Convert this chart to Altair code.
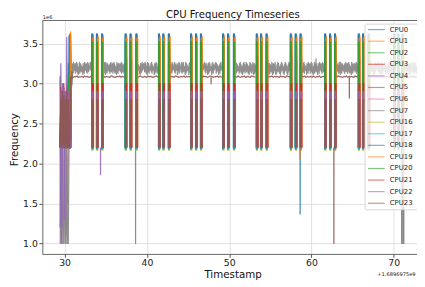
import altair as alt
import numpy as np
import pandas as pd

# ---------------- data ----------------
cpus = ["CPU0", "CPU1", "CPU2", "CPU3", "CPU4", "CPU5", "CPU6", "CPU7",
        "CPU16", "CPU17", "CPU18", "CPU19", "CPU20", "CPU21", "CPU22", "CPU23"]
colors = ["#1f77b4", "#ff7f0e", "#2ca02c", "#d62728", "#9467bd", "#8c564b", "#e377c2", "#7f7f7f",
          "#bcbd22", "#17becf", "#1f77b4", "#ff7f0e", "#2ca02c", "#d62728", "#9467bd", "#8c564b"]
continuous = ["CPU7", "CPU23"]

x_ticks = [30, 40, 50, 60, 70]
y_ticks = [1.0, 1.5, 2.0, 2.5, 3.0, 3.5]

# start-up burst (timestamps relative to +1.6896975e9, frequency in 1e6)
chaos_t = [29.45, 29.54, 29.63, 29.72, 29.81, 29.90, 29.99, 30.08, 30.17, 30.26,
           30.35, 30.44, 30.53, 30.62, 30.72, 30.85]
chaos_vals = [
    [2.2, 2.2, 2.7, 2.2, 2.6, 2.2, 2.2, 2.8, 2.2, 2.2, 2.2, 2.5, 2.2, 3.62, 2.2, 3.15],
    [3.05, 1.5, 2.2, 2.2, 2.5, 2.2, 2.2, 2.2, 2.6, 2.2, 2.2, 2.2, 2.2, 2.2, 3.65, 3.15],
    [3.1, 2.2, 2.2, 2.2, 2.9, 2.2, 2.2, 2.2, 2.2, 2.2, 2.2, 3.25, 2.2, 2.2, 2.2, 3.15],
    [2.2, 2.9, 2.2, 2.8, 2.2, 2.95, 2.2, 2.7, 2.2, 2.9, 2.2, 2.8, 2.2, 2.2, 2.2, 3.15],
    [2.2, 3.25, 2.2, 2.8, 2.2, 2.9, 2.2, 2.85, 2.2, 3.58, 2.2, 2.8, 2.2, 2.2, 2.2, 3.15],
    [2.2, 2.8, 2.2, 2.7, 2.2, 2.9, 2.2, 2.75, 2.2, 2.6, 2.2, 2.2, 2.2, 2.2, 2.2, 3.12],
    [1.0, 2.2, 1.4, 2.2, 1.2, 2.2, 1.6, 2.2, 1.1, 2.2, 1.5, 2.2, 2.2, 2.2, 2.2, 3.15],
    [2.2, 1.0, 1.0, 2.2, 1.0, 1.0, 2.2, 1.0, 1.0, 2.2, 1.0, 1.0, 2.2, 3.0, 3.22, 3.18],
    [2.2, 2.2, 2.6, 2.2, 2.2, 2.7, 2.2, 2.2, 2.5, 2.2, 2.2, 2.2, 2.2, 2.2, 2.2, 3.15],
    [2.2, 2.4, 2.2, 2.2, 2.5, 2.2, 2.2, 2.6, 2.2, 2.2, 2.2, 2.2, 2.2, 3.55, 2.2, 3.15],
    [2.2, 2.7, 2.2, 2.2, 2.2, 2.8, 2.2, 2.2, 2.2, 2.2, 2.7, 2.2, 3.6, 2.2, 2.2, 3.15],
    [2.2, 2.2, 2.2, 2.6, 2.2, 2.2, 2.7, 2.2, 2.2, 2.2, 2.2, 2.2, 2.2, 2.2, 3.62, 3.15],
    [2.2, 2.9, 2.2, 2.2, 3.0, 2.2, 2.2, 2.9, 2.2, 2.2, 2.2, 3.1, 2.2, 2.2, 2.2, 3.15],
    [2.2, 2.95, 2.2, 2.9, 2.2, 3.0, 2.2, 2.85, 2.2, 2.95, 2.2, 2.9, 2.2, 2.2, 2.2, 3.15],
    [1.2, 2.9, 1.0, 3.0, 2.2, 2.95, 1.3, 2.9, 2.2, 3.0, 2.2, 2.9, 2.2, 2.2, 2.2, 3.15],
    [2.2, 2.8, 2.2, 2.9, 2.2, 2.85, 2.2, 2.8, 2.2, 2.9, 2.2, 2.8, 2.2, 2.2, 3.08, 3.08],
]

# periodic bursts: three bars per burst (bar centre times)
burst_bars = [
    [33.41, 33.97, 34.60],
    [37.46, 38.06, 38.77],
    [41.51, 42.04, 42.71],
    [45.41, 46.01, 46.61],
    [49.31, 49.90, 50.62],
    [53.40, 53.91, 54.59],
    [57.53, 58.13, 58.72],
    [61.70, 62.30, 62.90],
    [65.79, 66.30, 66.98],
    [70.10, 70.60, 71.10],
]
burst_top = [3.62, 3.60, 3.55, 3.35, 3.30, 3.25, 3.30, 3.45, 3.50, 3.58, 3.62, 3.57, 3.52, 3.00, 2.90, 2.80]
burst_low = [2.20, 2.20, 2.20, 2.20, 2.19, 2.20, 2.21, 2.20, 2.16, 2.17, 2.19, 2.20, 2.20, 2.20, 2.20, 2.20]
burst_shift = [-0.04, 0.04, -0.02, 0.01, 0.03, -0.03, 0.02, 0.0, -0.01, -0.04, -0.05, 0.05, -0.03, 0.03, 0.0, 0.01]

# isolated excursions: (cpu, time, value, level around it)
spikes = [
    ("CPU22", 34.36, 1.86, 2.20),
    ("CPU7", 38.62, 1.00, 2.20),
    ("CPU23", 47.80, 3.00, 3.08),
    ("CPU18", 58.62, 1.37, 2.19),
    ("CPU19", 58.60, 2.05, 2.20),
    ("CPU7", 60.55, 3.31, 3.20),
    ("CPU23", 62.72, 1.00, 2.20),
    ("CPU23", 64.60, 2.82, 3.08),
    ("CPU7", 70.96, 1.00, 2.20),
    ("CPU7", 71.02, 1.00, 2.20),
    ("CPU7", 71.16, 1.00, 2.20),
    ("CPU7", 71.22, 1.00, 2.20),
]

# steady-state noise of CPU7 (grey band) and CPU23 (brown line), one digit per sample
gray_noise = (
    "8271936481739281406291837264508261937482"
    "7193826459837261948092618374527183926481"
    "8392716450927183648273918264718293746150"
    "8162937485729381640972815364829173645081"
    "7294815360827193645829173648027391846529"
    "8173926450918273645082917364859271836408"
    "7192836450829173648591827364027183946528"
    "9182736451829371640582937164928371650492"
    "8371649205817362940581736294058173692041"
    "7392846150729384615072938461507293846152"
    "8291736450"
)
brown_noise = (
    "5465745564756546574655476545657465546754"
    "6547565456745654765465574656547564576546"
    "5746556475465745654765546574656547565476"
    "5465746556475465745654765546574656547565"
    "4765465746546574655476"
)
gray_lo, gray_unit = 3.115, 0.017
brown_lo, brown_unit = 3.055, 0.006
t_end = 72.9

# ---------------- build the table ----------------
rows = []


def add(cpu, seg, t, v):
    rows.append({"cpu": cpu, "seg": seg, "t": float(t), "v": float(v)})


for ci, cpu in enumerate(cpus):
    seg = "base0" if cpu in continuous else "chaos"
    for t, v in zip(chaos_t, chaos_vals[ci]):
        add(cpu, seg, t, v)

spans = {cpu: [] for cpu in cpus}
for gi, bars in enumerate(burst_bars):
    for ci, cpu in enumerate(cpus):
        dt, T, L = burst_shift[ci], burst_top[ci], burst_low[ci]
        for bi, c in enumerate(bars):
            seg = f"g{gi}b{bi}"
            for t, v in [(c + dt - 0.055, L), (c + dt - 0.05, T), (c + dt + 0.05, T), (c + dt + 0.055, L)]:
                add(cpu, seg, t, v)
        spans[cpu].append((bars[0] + dt - 0.09, bars[-1] + dt + 0.09))

for cpu, noise, lo, unit, step in [("CPU7", gray_noise, gray_lo, gray_unit, 0.045),
                                   ("CPU23", brown_noise, brown_lo, brown_unit, 0.15)]:
    edges = [chaos_t[-1]]
    for a, b in spans[cpu]:
        edges += [a, b]
    edges.append(t_end)
    k = 0
    for i in range(0, len(edges), 2):
        a, b = edges[i], edges[i + 1]
        for t in np.arange(a + 0.05, b, step):
            add(cpu, f"base{i // 2}", t, lo + int(noise[k % len(noise)]) * unit)
            k += 1

for si, (cpu, t, v, around) in enumerate(spikes):
    seg = f"s{si}"
    add(cpu, seg, t - 0.006, around)
    add(cpu, seg, t, v)
    add(cpu, seg, t + 0.006, around)

df = pd.DataFrame(rows)
df["ci"] = df["cpu"].map({c: i for i, c in enumerate(cpus)})
df = df.sort_values(["ci", "seg", "t"], kind="stable").reset_index(drop=True)

# ---------------- chart ----------------
FONT = "DejaVu Sans"
W, H = 382, 238
color_scale = alt.Scale(domain=cpus, range=colors)

lines = alt.Chart(df).mark_line(strokeWidth=1.25, opacity=0.88, strokeJoin="round", clip=True).encode(
    x=alt.X("t:Q",
            scale=alt.Scale(domain=[27.29, 72.82], nice=False, zero=False),
            axis=alt.Axis(values=x_ticks, format="d", title="Timestamp",
                          titleFont=FONT, titleFontSize=10.5, titleFontWeight="normal", titleColor="#111",
                          titleX=194, titleY=24.4, titleBaseline="alphabetic",
                          labelFont=FONT, labelFontSize=9.5, labelColor="#222",
                          labelBaseline="alphabetic", labelPadding=8.8,
                          tickSize=3.5, tickColor="#555", domainColor="#555", domainWidth=0.9,
                          grid=True, gridColor="#d9d9d9", gridWidth=0.8)),
    y=alt.Y("v:Q",
            scale=alt.Scale(domain=[0.869, 3.791], nice=False, zero=False),
            axis=alt.Axis(values=y_ticks, format=".1f", title="Frequency",
                          titleFont=FONT, titleFontSize=10.5, titleFontWeight="normal", titleColor="#111",
                          titleX=-25, titleY=121, titleBaseline="alphabetic",
                          labelFont=FONT, labelFontSize=9.5, labelColor="#222", labelPadding=1.5,
                          tickSize=3.5, tickColor="#555", domainColor="#555", domainWidth=0.9,
                          grid=True, gridColor="#d9d9d9", gridWidth=0.8)),
    color=alt.Color("cpu:N", scale=color_scale, legend=None),
    detail="seg:N",
)

one = pd.DataFrame({"a": [0]})
top_spine = alt.Chart(one).mark_rule(color="#555", strokeWidth=0.9).encode(
    x=alt.value(0), x2=alt.value(W + 5), y=alt.value(0))

leg_bg = alt.Chart(one).mark_rect(fill="white", fillOpacity=0.8, stroke="#cccccc",
                                  strokeWidth=0.8, cornerRadius=2).encode(
    x=alt.value(329), x2=alt.value(400), y=alt.value(3.7), y2=alt.value(193))

leg_df = pd.DataFrame({"cpu": cpus})
leg_y = alt.Y("cpu:N", scale=alt.Scale(type="point", domain=cpus, range=[9.3, 186.3], padding=0),
              axis=None)
leg_sw = alt.Chart(leg_df).mark_rule(strokeWidth=1.2, opacity=0.6).encode(
    x=alt.value(332), x2=alt.value(349), y=leg_y,
    color=alt.Color("cpu:N", scale=color_scale, legend=None))
leg_tx = alt.Chart(leg_df).mark_text(align="left", baseline="middle", font=FONT, fontSize=7,
                                     color="#222").encode(
    x=alt.value(354.3), y=leg_y, text="cpu:N")

title_txt = alt.Chart(one).mark_text(text="CPU Frequency Timeseries", align="center",
                                     baseline="alphabetic", font=FONT, fontSize=10.3,
                                     color="#111").encode(x=alt.value(194.3), y=alt.value(-2.6))
exp_txt = alt.Chart(one).mark_text(text="1e6", align="left", baseline="alphabetic", font=FONT,
                                   fontSize=5.2, color="#222").encode(x=alt.value(0.5), y=alt.value(-2))
off_txt = alt.Chart(one).mark_text(text="+1.6896975e9", align="right", baseline="alphabetic", font=FONT,
                                   fontSize=5.2, color="#222").encode(x=alt.value(380.5), y=alt.value(261))

chart = alt.layer(lines, top_spine, leg_bg, leg_sw, leg_tx, title_txt, exp_txt, off_txt).resolve_scale(
    y="independent"
).properties(
    width=W, height=H,
    padding={"left": 35, "top": 10, "right": 0, "bottom": 31},
    autosize=alt.AutoSizeParams(type="none"),
).configure_view(stroke=None)

chart.save("out.html", embed_options={"renderer": "svg", "actions": False})
